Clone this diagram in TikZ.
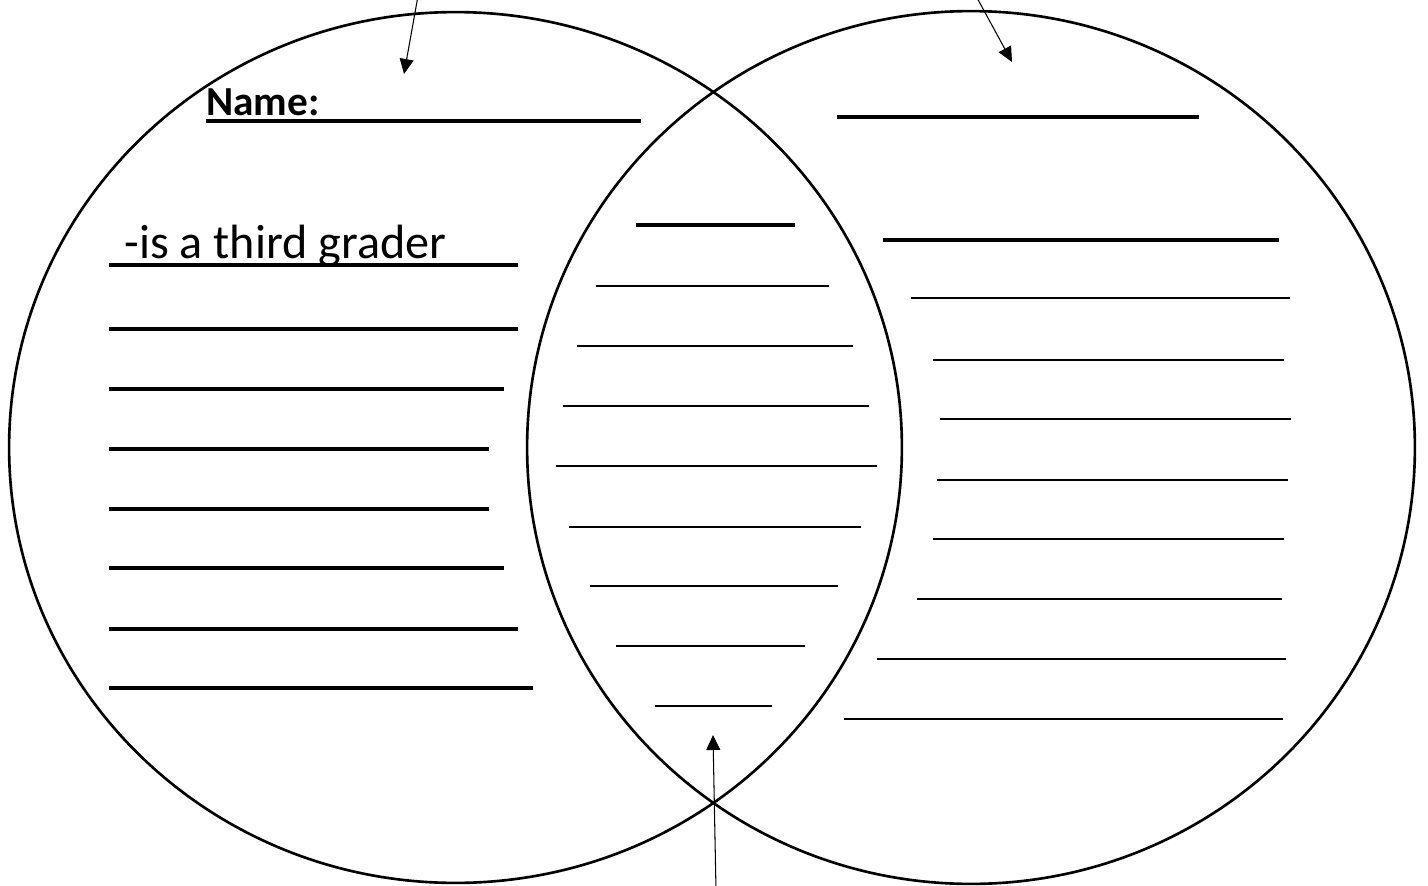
\documentclass[tikz,border=0pt]{standalone}
\usepackage{fontspec}
\setmainfont{Carlito}
\usetikzlibrary{shapes.geometric,arrows.meta}
\begin{document}
\begin{tikzpicture}[x=0.02cm,y=-0.02cm,
  ring/.style={draw, ellipse, inner sep=0pt, line width=1.5pt},
  pointer/.style={line width=0.6pt, -{Triangle[length=0.3cm,width=0.28cm]}},
  thickrule/.style={line width=2.6pt},
  midrule/.style={line width=1.9pt},
  thinrule/.style={line width=1.5pt},
  label/.style={inner sep=0pt, anchor=base west}]
\useasboundingbox (0,0) rectangle (1428,886);
% circles
\node[ring, minimum width=17.86cm, minimum height=17.42cm] (left) at (455.5,447.5) {};
\node[ring, minimum width=17.76cm, minimum height=17.46cm] (right) at (971,447.5) {};
% arrows
\coordinate (a1s) at (418,-4);
\coordinate (a1e) at (404,74);
\coordinate (a2s) at (976,-4);
\coordinate (a2e) at (1012,62);
\coordinate (a3s) at (716,890);
\coordinate (a3e) at (713,735);
\draw[pointer] (a1s) -- (a1e);
\draw[pointer] (a2s) -- (a2e);
\draw[pointer] (a3s) -- (a3e);
% texts
\node[label, font=\fontsize{23.5}{28}\selectfont\bfseries] (name) at (206,115) {Name:};
\node[label, font=\fontsize{27.4}{32}\selectfont] (third) at (124,258) {-is a third grader};
% left lines
\draw[thickrule] (206,121) -- (641,121);
\draw[thickrule] (109,265) -- (518,265);
\foreach \y/\e in {329/518, 389/504, 449/489, 509/489, 568/504, 629/518, 688/533}
  \draw[midrule] (109,\y) -- (\e,\y);
% middle lines
\draw[thickrule] (636,225) -- (795,225);
\foreach \y/\s/\e in {286/596/829, 346/577/853, 406/563/869, 466/556/877, 527/569/861, 586/590/838, 646/616/805, 706/655/772}
  \draw[thinrule] (\s,\y) -- (\e,\y);
% right lines
\draw[thickrule] (837,117) -- (1199,117);
\draw[midrule] (883,240) -- (1279,240);
\foreach \y/\s/\e in {298/911/1290, 360/933/1284, 419/940/1291, 480/937/1288, 539/933/1284, 599/917/1282, 659/877/1286, 719/844/1283}
  \draw[thinrule] (\s,\y) -- (\e,\y);
\end{tikzpicture}
\end{document}
